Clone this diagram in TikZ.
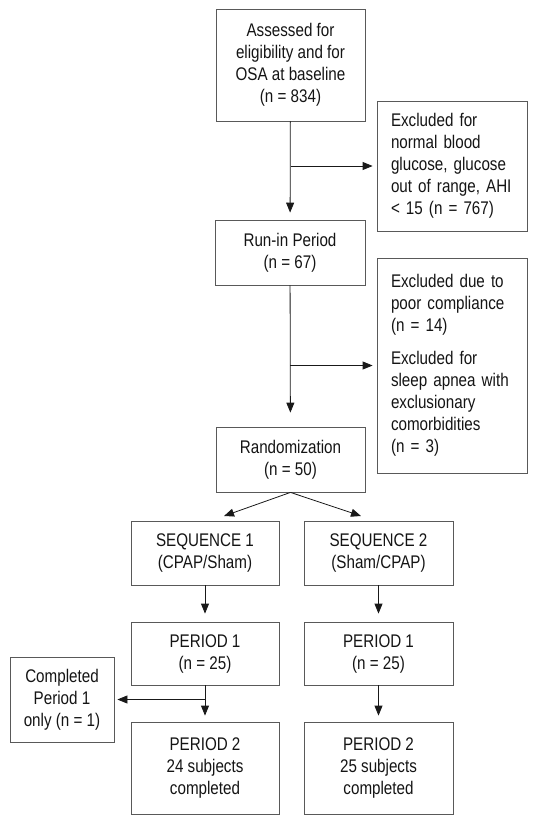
\documentclass[tikz,border=0pt]{standalone}
\usepackage{fontspec}
\setmainfont{Liberation Sans}[FakeStretch=0.83]
\usetikzlibrary{arrows.meta}
\tikzset{
	box/.style={draw=black!65, line width=0.8pt, rectangle, align=center, inner sep=0pt,
		text=black!92, font=\fontsize{18.3}{22}\selectfont},
	sidebox/.style={box, align=left, inner xsep=14pt, text width=122pt, minimum width=150pt},
	arr/.style={draw=black!90, line width=0.8pt, -{Triangle[length=10pt,width=8pt]}}
}
\begin{document}
\begin{tikzpicture}[x=1pt,y=-1pt]
	\useasboundingbox (0,0) rectangle (538,820);
	% main column
	\node[box, minimum width=149pt, minimum height=112pt] (assess) at (290.5,65)
		{Assessed for\\eligibility and for\\OSA at baseline\\(n = 834)};
	\node[box, minimum width=150pt, minimum height=65pt] (runin) at (290,252.5)
		{Run-in Period\\(n = 67)};
	\node[box, minimum width=149pt, minimum height=65pt] (rand) at (290.5,459.5)
		{Randomization\\(n = 50)};
	% exclusions
	\node[sidebox, minimum height=130pt] (excl1) at (452,166)
		{Excluded for\\normal blood\\glucose, glucose\\out of range, AHI\\< 15 (n = 767)};
	\node[sidebox, minimum height=215pt] (excl2) at (452,365.5)
		{Excluded due to\\poor compliance\\(n = 14)\\[11pt]Excluded for\\sleep apnea with\\exclusionary\\comorbidities\\(n = 3)};
	% two sequences
	\node[box, minimum width=148pt, minimum height=64pt] (seqa) at (205,553)
		{SEQUENCE 1\\(CPAP/Sham)};
	\node[box, minimum width=149pt, minimum height=64pt] (seqb) at (378.5,553)
		{SEQUENCE 2\\(Sham/CPAP)};
	\node[box, minimum width=148pt, minimum height=63pt] (pera1) at (205,653.5)
		{PERIOD 1\\(n = 25)};
	\node[box, minimum width=149pt, minimum height=63pt] (perb1) at (378.5,653.5)
		{PERIOD 1\\(n = 25)};
	\node[box, minimum width=148pt, minimum height=92pt] (pera2) at (205,768)
		{PERIOD 2\\24 subjects\\completed};
	\node[box, minimum width=149pt, minimum height=92pt] (perb2) at (378.5,768)
		{PERIOD 2\\25 subjects\\completed};
	\node[box, minimum width=104pt, minimum height=85pt] (done) at (62,699.5)
		{Completed\\Period 1\\only (n = 1)};
	% branch points
	\coordinate (br1) at (290.5,166);
	\coordinate (br2) at (290,365.5);
	\coordinate (br3) at (205,699.5);
	\coordinate (ina) at (224,516);
	\coordinate (inb) at (361,516);
	% connectors
	\draw[arr, shorten >=7pt] (assess) -- (runin);
	\draw[arr, shorten >=4pt] (br1) -- (excl1.west);
	\draw[arr, shorten >=14pt] (runin) -- (rand);
	\draw[arr, shorten >=4pt] (br2) -- (excl2.west);
	\draw[arr] (rand.south) -- (ina);
	\draw[arr] (rand.south) -- (inb);
	\draw[arr, shorten >=8pt] (seqa) -- (pera1);
	\draw[arr, shorten >=8pt] (seqb) -- (perb1);
	\draw[arr, shorten >=6pt] (pera1) -- (pera2);
	\draw[arr, shorten >=6pt] (perb1) -- (perb2);
	\draw[arr, shorten >=3pt] (br3) -- (done.east);
\end{tikzpicture}
\end{document}
